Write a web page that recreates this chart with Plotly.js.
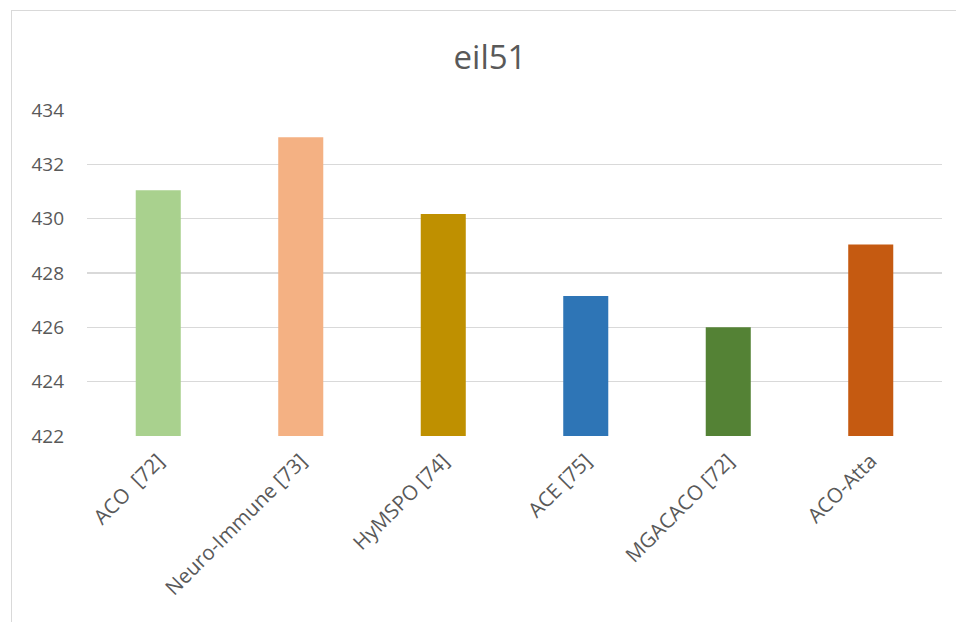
<!DOCTYPE html>
<html>
<head>
<meta charset="utf-8">
<script src="https://cdn.plot.ly/plotly-3.0.1.min.js"></script>
<style>
html,body{margin:0;padding:0;overflow:hidden;background:#fff;}
#chart{position:absolute;left:0;top:0;width:956px;height:622px;}
#frame{position:absolute;left:11px;top:10px;width:1000px;height:700px;border:1px solid #d9d9d9;pointer-events:none;}
</style>
</head>
<body>
<div id="chart"></div>
<div id="frame"></div>
<script>
const categories = ["ACO  [72]", "Neuro-Immune [73]", "HyMSPO [74]", "ACE [75]", "MGACACO [72]", "ACO-Atta"];
const values = [431.05, 433.0, 430.17, 427.15, 426.0, 429.05];
const colors = ["#a9d18e", "#f4b183", "#bf9000", "#2e75b6", "#548235", "#c55a11"];
const yTicks = [422, 424, 426, 428, 430, 432, 434];
const baseline = 422;

const trace = {
  type: "bar",
  x: categories,
  y: values.map(v => v - baseline),
  base: baseline,
  marker: {color: colors},
  width: 0.316,
  hoverinfo: "x+y"
};

const layout = {
  width: 956,
  height: 622,
  margin: {l: 87, r: 14, t: 110, b: 186},
  paper_bgcolor: "#ffffff",
  plot_bgcolor: "#ffffff",
  showlegend: false,
  title: {
    text: "eil51",
    font: {family: "Open Sans, sans-serif", size: 33, color: "#595959"},
    x: 0.5126, xref: "container", xanchor: "center",
    y: 0.908, yref: "container", yanchor: "middle"
  },
  xaxis: {
    type: "category",
    tickangle: -45,
    showgrid: false,
    showline: false,
    ticks: "",
    ticklabelstandoff: 8,
    tickfont: {family: "Open Sans, sans-serif", size: 20.5, color: "#595959"}
  },
  yaxis: {
    range: [422, 434],
    tickvals: yTicks,
    ticktext: yTicks.map(String),
    showgrid: true,
    gridcolor: "#d9d9d9",
    gridwidth: 1.3,
    zeroline: false,
    showline: false,
    ticks: "",
    ticklabelstandoff: 22,
    tickfont: {family: "Open Sans, sans-serif", size: 19, color: "#595959"}
  },
  bargap: 0.68
};

Plotly.newPlot("chart", [trace], layout, {displayModeBar: false, staticPlot: true});
</script>
</body>
</html>
